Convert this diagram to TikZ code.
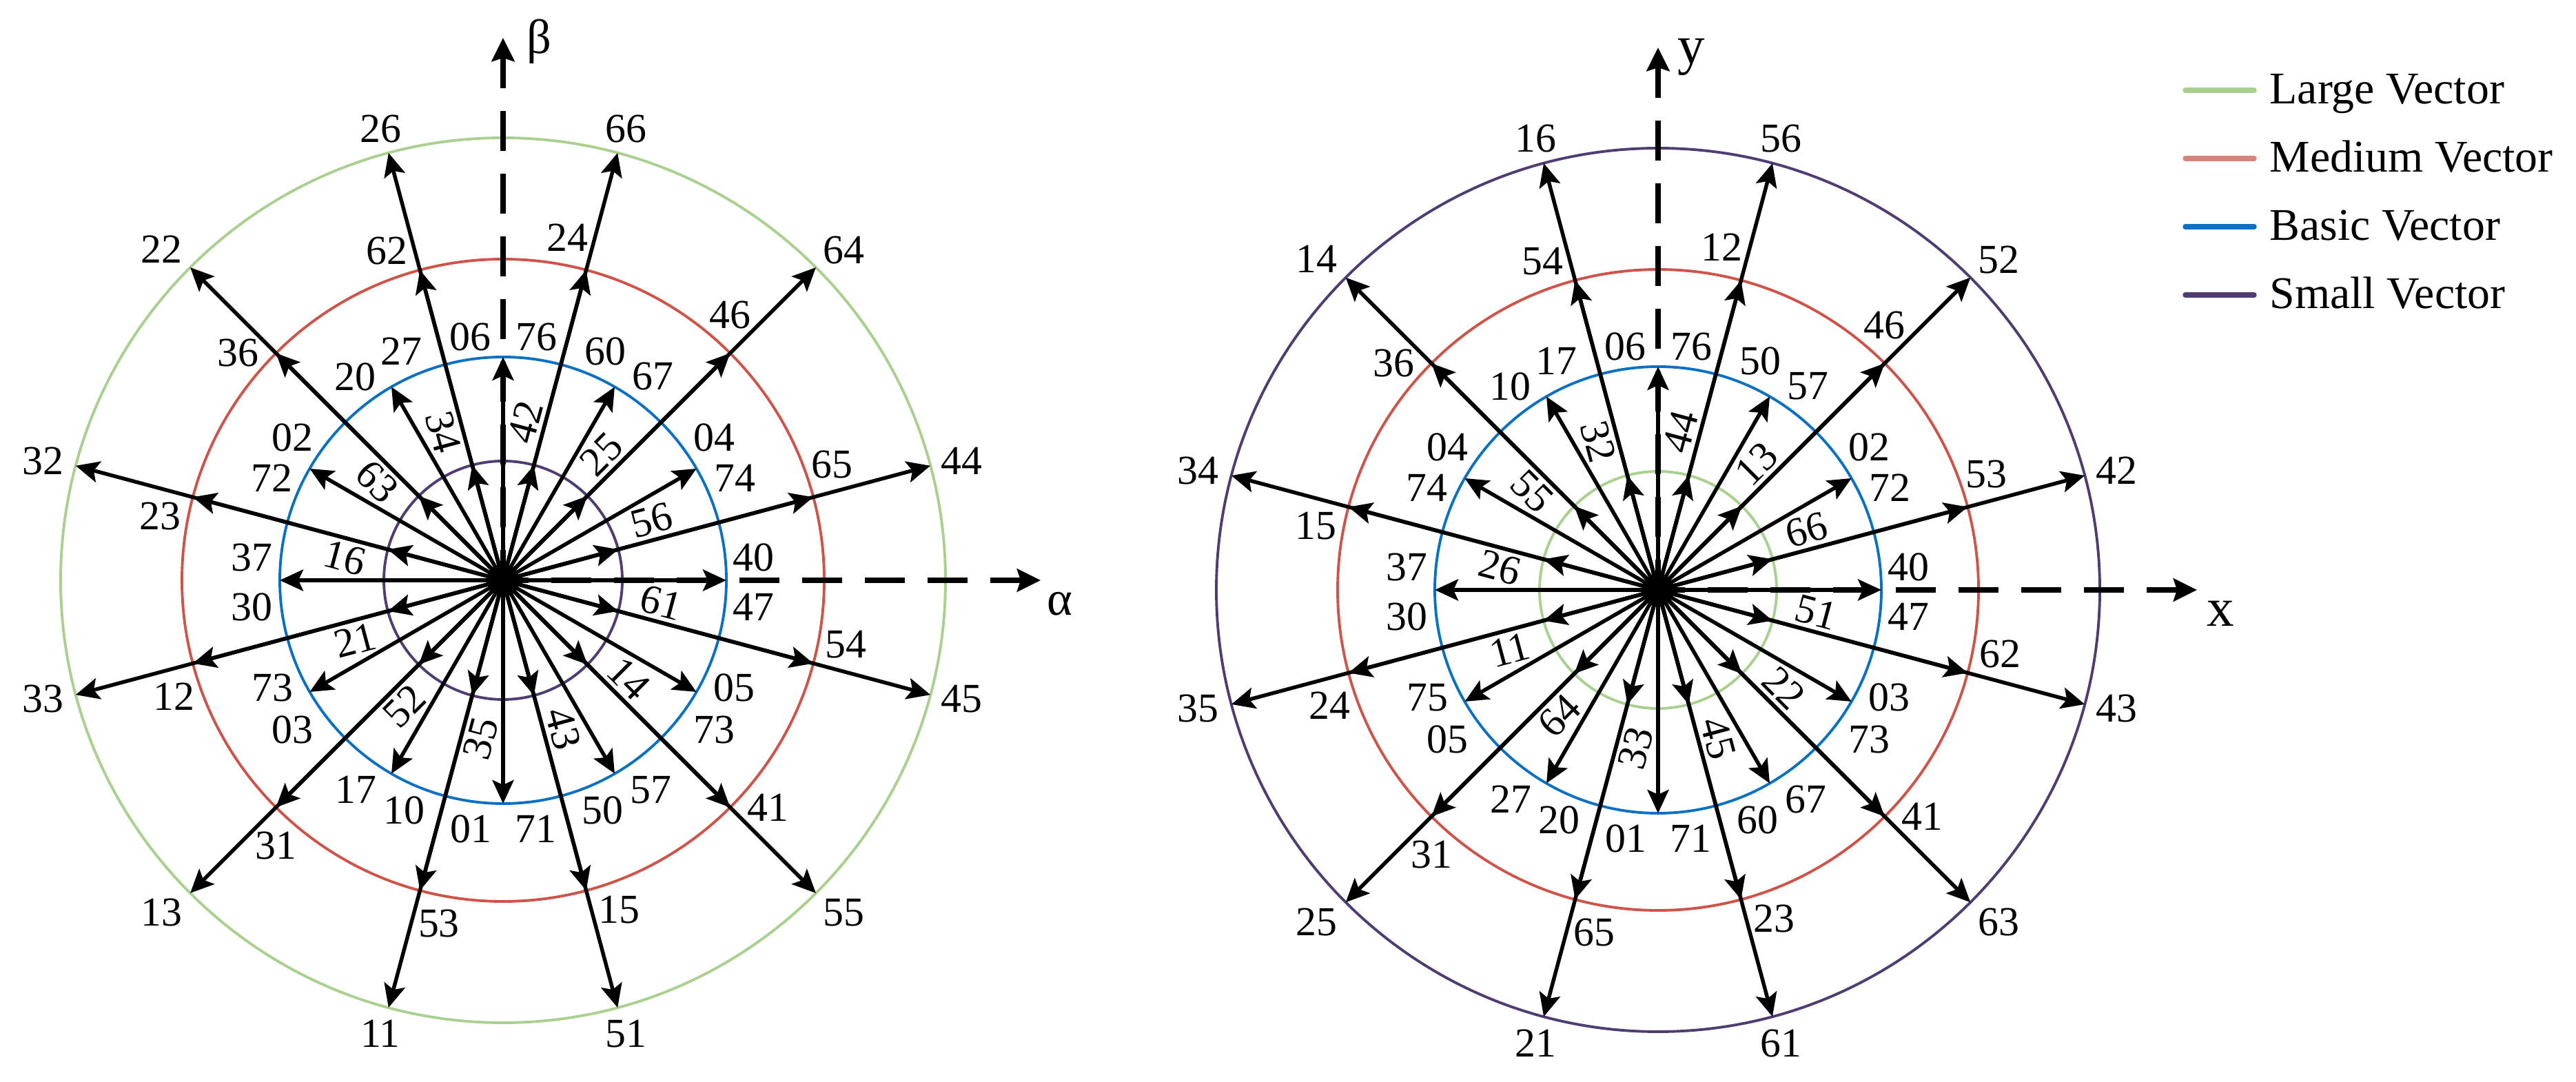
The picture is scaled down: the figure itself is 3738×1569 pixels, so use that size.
\documentclass[tikz,border=0pt]{standalone}
\usepackage{fontspec}
\setmainfont{Liberation Serif}
\usetikzlibrary{arrows.meta,calc}
\definecolor{cGreen}{HTML}{A9D08E}
\definecolor{cRed}{HTML}{D0534A}
\definecolor{cBlue}{HTML}{0A70C4}
\definecolor{cPurple}{HTML}{4F3C72}
\definecolor{cRedLeg}{HTML}{D8847B}
\tikzset{
  vec/.style={line width=1.55pt,-{Stealth[length=0.34cm,width=0.31cm,inset=0.07cm]}},
  ring/.style={line width=1.1pt},
  num/.style={font=\fontsize{17pt}{18pt}\selectfont,inner sep=0pt},
  axisdash/.style={line width=2.2pt,dash pattern=on 0.58cm off 0.33cm,dash phase=0.58cm},
  axishead/.style={line width=2.2pt,-{Stealth[length=0.34cm,width=0.33cm,inset=0.05cm]}},
  axislabL/.style={font=\fontsize{20pt}{22pt}\selectfont,inner sep=0pt},
  axislabR/.style={font=\fontsize{22.5pt}{24pt}\selectfont,inner sep=0pt},
  legline/.style={line width=2.1pt,line cap=round},
  legtext/.style={font=\fontsize{18.7pt}{20pt}\selectfont,anchor=base west,inner sep=0pt},
}
\begin{document}
\begin{tikzpicture}[x=0.01cm,y=0.01cm]
\useasboundingbox (0,0) rectangle (3738,1569);

% ===================== LEFT DIAGRAM =====================
\begin{scope}[shift={(730,727)}]
  \coordinate (L) at (0,0);
  \draw[ring,cGreen]  (L) circle[radius=642];
  \draw[ring,cRed]    (L) circle[radius=466];
  \draw[ring,cBlue]   (L) circle[radius=324];
  \draw[ring,cPurple] (L) circle[radius=173];
  % axes
  \coordinate (L-btip) at (0,787);
  \coordinate (L-bst) at (0,714);
  \coordinate (L-atip) at (780,0);
  \coordinate (L-ast) at (707,0);
  \draw[axisdash] (L-bst) -- (L);
  \draw[axishead] (L-bst) -- (L-btip);
  \draw[axisdash] (L-ast) -- (L);
  \draw[axishead] (L-ast) -- (L-atip);
  \node[axislabL] (L-beta) at (52,782) {β};
  \node[axislabL] (L-alpha) at (808,-34) {α};
  % vectors
  \foreach \a in {15,45,...,345}{
    \coordinate (L-g\a) at (\a:642);
    \coordinate (L-m\a) at (\a:466);
    \coordinate (L-s\a) at (\a:173);
    \draw[vec] (L) -- (L-g\a);
    \draw[vec] (L) -- (L-m\a);
    \draw[vec] (L) -- (L-s\a);
  }
  \foreach \a in {0,30,...,330}{
    \coordinate (L-b\a) at (\a:324);
    \draw[vec] (L) -- (L-b\a);
  }
  \fill (L) circle[radius=24];
  % large labels
  \foreach \a/\dx/\dy/\t in {15/665/173/44,45/494/479/64,75/178/655/66,105/-178/655/26,
      135/-496/480/22,165/-668/173/32,195/-668/-172/33,225/-496/-482/13,
      255/-178/-658/11,285/178/-658/51,315/494/-482/55,345/665/-172/45}{
    \node[num] (L-lg\a) at (\dx,\dy) {\t};
  }
  % medium labels
  \foreach \a/\t in {15/65,45/46,75/24,105/62,135/36,165/23,195/12,225/31,
      255/53,285/15,315/41,345/54}{
    \node[num] (L-lm\a) at ($(\a:466)+(\a+45:55)$) {\t};
  }
  % small labels
  \foreach \a/\r/\t in {15/15/56,45/45/25,75/75/42,105/-75/34,135/-45/63,165/-15/16,
      195/15/21,225/45/52,255/75/35,285/-75/43,315/-45/14,345/-15/61}{
    \node[num,rotate=\r] (L-ls\a) at (\a+7:232) {\t};
  }
  % basic labels
  \foreach \n/\dx/\dy/\t in {1/-48/353/06,2/48/353/76,3/148/332/60,4/217/296/67,
      5/-148/332/27,6/-215/295/20,7/306/207/04,8/336/148/74,9/-306/207/02,
      10/-336/148/72,11/363/33/40,12/363/-39/47,13/-365/33/37,14/-365/-39/30,
      15/-335/-156/73,16/-306/-217/03,17/335/-156/05,18/306/-217/73,
      19/-214/-304/17,20/-144/-334/10,21/144/-334/50,22/214/-304/57,
      23/-47/-361/01,24/47/-361/71}{
    \node[num] (L-lb\n) at (\dx,\dy) {\t};
  }
\end{scope}

% ===================== RIGHT DIAGRAM =====================
\begin{scope}[shift={(2406,713)}]
  \coordinate (R) at (0,0);
  \draw[ring,cPurple] (R) circle[radius=641];
  \draw[ring,cRed]    (R) circle[radius=465];
  \draw[ring,cBlue]   (R) circle[radius=324];
  \draw[ring,cGreen]  (R) circle[radius=172];
  % axes
  \coordinate (R-ytip) at (0,787);
  \coordinate (R-yst) at (0,714);
  \coordinate (R-xtip) at (782,0);
  \coordinate (R-xst) at (709,0);
  \draw[axisdash] (R-yst) -- (R);
  \draw[axishead] (R-yst) -- (R-ytip);
  \draw[axisdash] (R-xst) -- (R);
  \draw[axishead] (R-xst) -- (R-xtip);
  \node[axislabR] (R-ylab) at (48,773) {y};
  \node[axislabR] (R-xlab) at (816,-34) {x};
  % vectors
  \foreach \a in {15,45,...,345}{
    \coordinate (R-g\a) at (\a:641);
    \coordinate (R-m\a) at (\a:465);
    \coordinate (R-s\a) at (\a:172);
    \draw[vec] (R) -- (R-g\a);
    \draw[vec] (R) -- (R-m\a);
    \draw[vec] (R) -- (R-s\a);
  }
  \foreach \a in {0,30,...,330}{
    \coordinate (R-b\a) at (\a:324);
    \draw[vec] (R) -- (R-b\a);
  }
  \fill (R) circle[radius=24];
  % large labels
  \foreach \a/\dx/\dy/\t in {15/665/173/42,45/494/479/52,75/178/655/56,105/-178/655/16,
      135/-496/480/14,165/-668/173/34,195/-668/-172/35,225/-496/-482/25,
      255/-178/-658/21,285/178/-658/61,315/494/-482/63,345/665/-172/43}{
    \node[num] (R-lg\a) at (\dx,\dy) {\t};
  }
  % medium labels
  \foreach \a/\t in {15/53,45/46,75/12,105/54,135/36,165/15,195/24,225/31,
      255/65,285/23,315/41,345/62}{
    \node[num] (R-lm\a) at ($(\a:465)+(\a+45:55)$) {\t};
  }
  % small labels
  \foreach \a/\r/\t in {15/15/66,45/45/13,75/75/44,105/-75/32,135/-45/55,165/-15/26,
      195/15/11,225/45/64,255/75/33,285/-75/45,315/-45/22,345/-15/51}{
    \node[num,rotate=\r] (R-ls\a) at (\a+7:232) {\t};
  }
  % basic labels
  \foreach \n/\dx/\dy/\t in {1/-48/353/06,2/48/353/76,3/148/332/50,4/217/296/57,
      5/-148/332/17,6/-215/295/10,7/306/207/02,8/336/148/72,9/-306/207/04,
      10/-336/148/74,11/363/33/40,12/363/-39/47,13/-365/33/37,14/-365/-39/30,
      15/-335/-156/75,16/-306/-217/05,17/335/-156/03,18/306/-217/73,
      19/-214/-304/27,20/-144/-334/20,21/144/-334/60,22/214/-304/67,
      23/-47/-361/01,24/47/-361/71}{
    \node[num] (R-lb\n) at (\dx,\dy) {\t};
  }
\end{scope}

% ===================== LEGEND =====================
\coordinate (g1a) at (3171,1438); \coordinate (g1b) at (3271,1438);
\coordinate (g2a) at (3171,1339); \coordinate (g2b) at (3271,1339);
\coordinate (g3a) at (3171,1240); \coordinate (g3b) at (3271,1240);
\coordinate (g4a) at (3171,1141); \coordinate (g4b) at (3271,1141);
\draw[legline,cGreen]   (g1a) -- (g1b);
\draw[legline,cRedLeg]  (g2a) -- (g2b);
\draw[legline,cBlue]    (g3a) -- (g3b);
\draw[legline,cPurple]  (g4a) -- (g4b);
\node[legtext] (t1) at (3293,1418) {Large Vector};
\node[legtext] (t2) at (3293,1319) {Medium Vector};
\node[legtext] (t3) at (3293,1220) {Basic Vector};
\node[legtext] (t4) at (3293,1121) {Small Vector};
\end{tikzpicture}
\end{document}
